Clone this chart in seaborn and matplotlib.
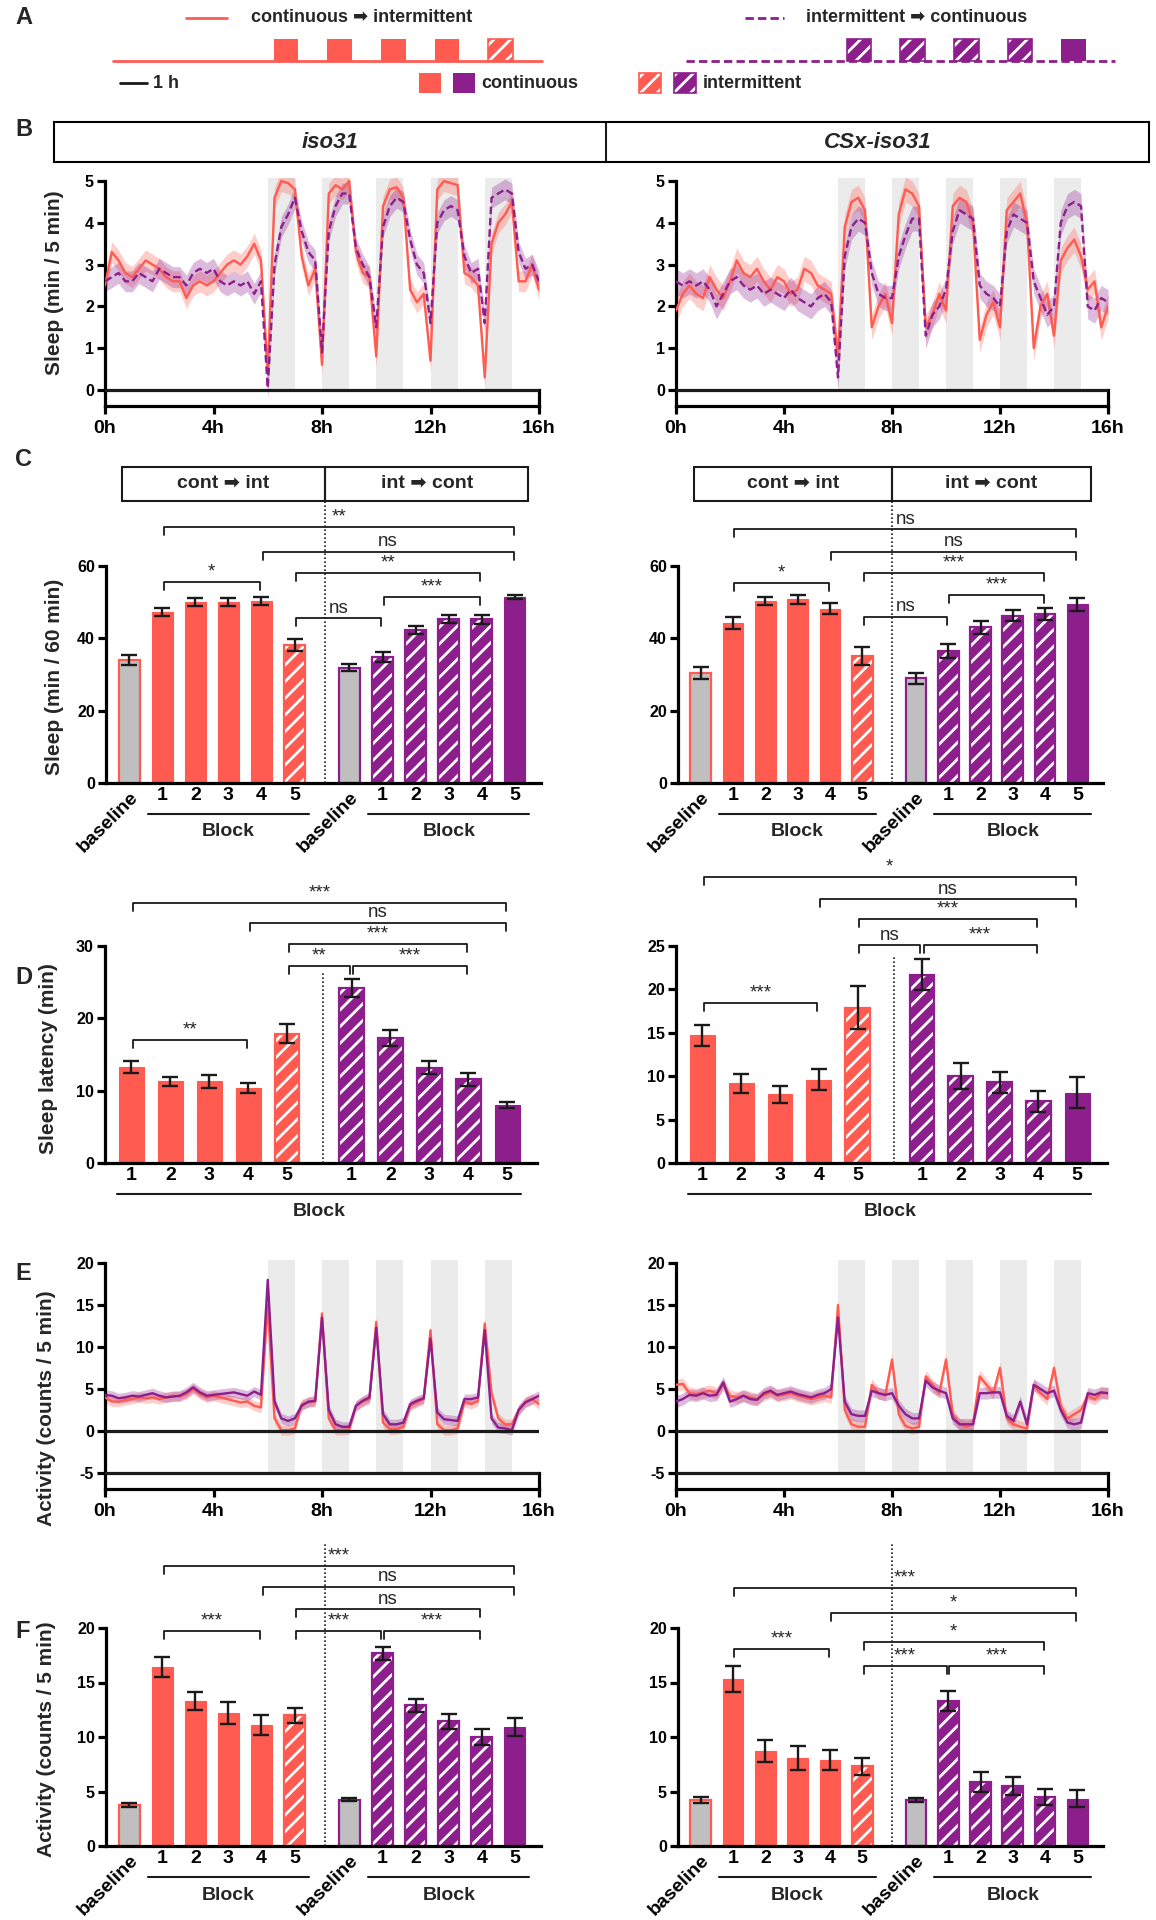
import numpy as np
import matplotlib
matplotlib.use('Agg')
import matplotlib.pyplot as plt
import matplotlib.transforms as mtransforms
from matplotlib.patches import Rectangle
import seaborn as sns

W, H = 1156, 1920
RED = '#FF5B50'
PURPLE = '#8D1F8D'
GRAY = '#BFBFBF'
SHADE = '#EBEBEB'
LW = 2.3      # axis line width (pt)
BW = 0.64     # bar width
GAP = 0.66    # extra space between the two protocol groups

# ---------------- data ----------------
stim_starts = [6, 8, 10, 12, 14]            # 1 h stimulation blocks (h)
proto_cont_int = ['C', 'C', 'C', 'C', 'I']  # continuous -> intermittent
proto_int_cont = ['I', 'I', 'I', 'I', 'C']  # intermittent -> continuous
genotypes = ['iso31', 'CSx-iso31']

hours = np.arange(65) * 0.25   # 15 min bins, 0-16 h

# sleep (min / 5 min), read every 15 min
sleep_iso_cont = [2.5, 3.3, 3.1, 2.8, 2.7, 2.9, 3.1, 3.0,
                  2.9, 2.7, 2.6, 2.6, 2.2, 2.5, 2.6, 2.5,
                  2.6, 2.8, 3.0, 3.1, 3.0, 3.2, 3.5, 3.1,
                  0.4, 4.6, 5.0, 4.95, 4.8, 3.2, 2.5, 2.9,
                  0.6, 4.7, 4.9, 4.8, 5.0, 3.3, 2.8, 2.7,
                  0.8, 4.4, 4.8, 4.85, 4.6, 2.4, 2.1, 2.3,
                  0.7, 4.8, 5.0, 4.95, 4.9, 2.8, 2.7, 2.5,
                  0.3, 3.5, 4.0, 4.2, 4.5, 2.6, 2.6, 3.0,
                  2.4]
sleep_iso_int = [2.6, 2.7, 2.8, 2.6, 2.6, 2.8, 2.7, 2.6,
                 2.9, 2.8, 2.7, 2.7, 2.5, 2.8, 2.9, 2.8,
                 2.9, 2.6, 2.5, 2.6, 2.5, 2.6, 2.3, 2.6,
                 0.05, 3.0, 3.9, 4.2, 4.6, 3.8, 3.3, 3.1,
                 0.9, 3.8, 4.4, 4.7, 4.7, 3.4, 3.0, 2.7,
                 1.5, 3.9, 4.4, 4.6, 4.5, 3.6, 3.0, 2.8,
                 1.6, 4.0, 4.3, 4.4, 4.3, 3.2, 2.8, 2.9,
                 1.6, 4.6, 4.7, 4.8, 4.7, 3.3, 2.9, 3.0,
                 2.6]
sleep_csx_cont = [1.9, 2.3, 2.5, 2.3, 2.2, 2.7, 2.4, 2.2,
                  2.6, 3.1, 2.8, 2.7, 2.9, 2.6, 2.4, 2.7,
                  2.6, 2.3, 2.4, 2.9, 2.8, 2.5, 2.4, 2.3,
                  0.8, 3.9, 4.5, 4.6, 4.3, 1.5, 2.0, 2.3,
                  1.6, 4.2, 4.8, 4.7, 4.4, 1.5, 1.8, 2.3,
                  1.9, 4.4, 4.6, 4.5, 4.0, 1.2, 1.8, 2.1,
                  1.5, 4.3, 4.5, 4.7, 4.0, 1.0, 2.0, 2.3,
                  1.3, 3.1, 3.4, 3.6, 3.2, 2.4, 2.6, 1.5,
                  2.0]
sleep_csx_int = [2.6, 2.5, 2.6, 2.5, 2.6, 2.4, 2.0, 2.3,
                 2.6, 2.7, 2.5, 2.4, 2.5, 2.3, 2.4, 2.3,
                 2.2, 2.4, 2.2, 2.1, 2.0, 2.2, 2.3, 2.1,
                 0.3, 3.2, 3.9, 4.1, 4.0, 2.8, 2.3, 2.2,
                 2.2, 3.2, 3.7, 4.1, 4.1, 1.3, 1.8, 2.0,
                 2.4, 3.8, 4.3, 4.2, 4.1, 2.5, 2.3, 2.2,
                 2.0, 3.8, 4.2, 4.1, 4.0, 2.6, 2.2, 1.8,
                 2.0, 4.0, 4.4, 4.5, 4.4, 2.0, 1.9, 2.2,
                 2.1]
sem_sleep = [0.25, 0.3]

# activity (counts / 5 min), read every 15 min
act_iso_cont = [4.0, 3.5, 3.5, 3.7, 3.8, 4.0, 3.9, 4.0,
                3.8, 4.0, 4.2, 4.1, 4.4, 5.0, 4.4, 4.0,
                4.2, 4.0, 3.8, 3.6, 3.4, 3.5, 3.0, 2.8,
                15.0, 1.5, 0.1, 0.1, 0.3, 3.2, 3.4, 3.5,
                14.0, 1.5, 0.1, 0.1, 0.2, 3.0, 3.5, 3.8,
                13.0, 1.0, 0.2, 0.2, 0.5, 3.0, 3.4, 3.8,
                12.0, 0.8, 0.1, 0.1, 0.3, 3.5, 3.2, 3.6,
                12.8, 4.5, 1.5, 0.8, 0.8, 2.5, 3.5, 3.8,
                3.2]
act_iso_int = [4.3, 4.2, 3.9, 4.0, 4.2, 4.1, 4.3, 4.5,
               4.2, 4.0, 4.1, 4.2, 4.6, 5.2, 4.6, 4.2,
               4.3, 4.4, 4.5, 4.6, 4.4, 4.2, 4.7, 4.3,
               18.0, 3.5, 1.5, 1.2, 1.5, 3.0, 3.5, 3.6,
               13.5, 2.5, 0.8, 0.5, 0.5, 3.0, 3.6, 4.0,
               12.3, 2.0, 0.8, 0.8, 1.0, 3.2, 3.6, 3.9,
               11.0, 2.2, 1.4, 1.3, 1.2, 3.8, 3.8, 4.0,
               12.0, 1.5, 0.4, 0.3, 0.1, 2.5, 3.4, 3.8,
               4.2]
act_csx_cont = [5.5, 5.6, 4.5, 4.4, 4.6, 4.8, 4.5, 5.5,
                4.2, 4.0, 4.2, 4.0, 3.8, 4.3, 4.6, 4.2,
                4.3, 4.5, 4.2, 4.0, 3.8, 4.0, 4.2, 4.0,
                15.0, 2.5, 0.8, 0.5, 0.5, 5.5, 4.5, 4.3,
                8.5, 2.0, 0.6, 0.3, 0.5, 6.5, 5.5, 4.5,
                8.5, 2.0, 0.8, 0.5, 0.8, 6.5, 5.5, 4.5,
                7.5, 1.5, 0.8, 0.5, 0.3, 5.5, 4.5, 3.8,
                7.5, 3.0, 1.5, 2.0, 2.5, 4.2, 3.8, 4.5,
                4.5]
act_csx_int = [3.5, 3.8, 4.3, 4.2, 4.5, 4.2, 4.3, 5.8,
               3.5, 3.8, 4.2, 3.8, 3.7, 4.5, 4.8, 4.3,
               4.5, 4.7, 4.4, 4.2, 4.0, 4.3, 4.5, 5.0,
               13.5, 3.5, 2.0, 1.8, 1.8, 4.8, 4.5, 4.3,
               4.5, 3.0, 2.0, 1.5, 1.5, 6.0, 5.2, 4.8,
               4.5, 1.5, 0.8, 0.8, 0.8, 4.5, 4.5, 4.6,
               4.6, 1.8, 1.2, 3.5, 0.8, 5.5, 5.0, 4.5,
               4.8, 2.5, 1.0, 0.8, 1.0, 4.5, 4.3, 4.6,
               4.5]
sem_act = [0.6, 0.7]

# bar panels: baseline + blocks 1-5
bar_labels = ['baseline', '1', '2', '3', '4', '5']
block_labels = ['1', '2', '3', '4', '5']

sleep60_iso_cont = [34.0, 47.4, 50.0, 50.0, 50.2, 38.2]
sleep60_iso_cont_sem = [1.4, 1.1, 1.1, 1.1, 1.1, 1.65]
sleep60_iso_int = [31.9, 34.8, 42.3, 45.4, 45.3, 51.5]
sleep60_iso_int_sem = [0.9, 1.4, 1.2, 1.1, 1.2, 0.6]
sleep60_csx_cont = [30.4, 44.2, 50.3, 50.8, 48.2, 35.0]
sleep60_csx_cont_sem = [1.75, 1.6, 1.2, 1.2, 1.6, 2.5]
sleep60_csx_int = [29.0, 36.5, 43.0, 46.2, 46.7, 49.4]
sleep60_csx_int_sem = [1.5, 2.0, 1.7, 1.5, 1.6, 1.8]

latency_iso_cont = [13.3, 11.3, 11.3, 10.35, 17.9]
latency_iso_cont_sem = [0.85, 0.6, 0.9, 0.7, 1.3]
latency_iso_int = [24.2, 17.3, 13.2, 11.6, 8.05]
latency_iso_int_sem = [1.2, 1.1, 0.9, 0.9, 0.45]
latency_csx_cont = [14.7, 9.2, 7.9, 9.6, 17.9]
latency_csx_cont_sem = [1.2, 1.1, 1.0, 1.2, 2.5]
latency_csx_int = [21.7, 10.0, 9.3, 7.1, 8.1]
latency_csx_int_sem = [1.8, 1.5, 1.2, 1.2, 1.8]

act60_iso_cont = [3.75, 16.4, 13.3, 12.2, 11.1, 12.0]
act60_iso_cont_sem = [0.15, 0.9, 0.8, 1.0, 0.9, 0.7]
act60_iso_int = [4.25, 17.7, 12.9, 11.45, 10.0, 10.9]
act60_iso_int_sem = [0.12, 0.6, 0.6, 0.7, 0.7, 0.8]
act60_csx_cont = [4.2, 15.3, 8.7, 8.05, 7.9, 7.3]
act60_csx_cont_sem = [0.3, 1.2, 1.0, 1.1, 0.9, 0.8]
act60_csx_int = [4.2, 13.3, 5.9, 5.5, 4.5, 4.35]
act60_csx_int_sem = [0.2, 0.9, 0.9, 0.8, 0.7, 0.75]

# significance brackets: (bar index from, bar index to, height, label)
sig_sleep60 = [
    [(1, 11, 70.7, '**'), (4, 11, 63.9, 'ns'), (5, 10, 58.0, '**'),
     (7, 10, 51.3, '***'), (1, 4, 55.7, '*'), (5, 7, 45.5, 'ns')],
    [(1, 11, 70.1, 'ns'), (4, 11, 63.9, 'ns'), (5, 10, 58.0, '***'),
     (7, 10, 52.0, '***'), (1, 4, 55.2, '*'), (5, 7, 46.0, 'ns')]]
sig_latency = [
    [(0, 9, 36.0, '***'), (3, 9, 33.2, 'ns'), (4, 8, 30.3, '***'),
     (4, 5, 27.2, '**'), (5, 8, 27.2, '***'), (0, 3, 17.0, '**')],
    [(0, 9, 33.0, '*'), (3, 9, 30.4, 'ns'), (4, 8, 28.1, '***'),
     (4, 5, 25.1, 'ns'), (5, 8, 25.1, '***'), (0, 3, 18.4, '***')]]
sig_act60 = [
    [(1, 11, 25.7, '***'), (4, 11, 23.8, 'ns'), (5, 10, 21.7, 'ns'),
     (1, 4, 19.7, '***'), (5, 7, 19.7, '***'), (7, 10, 19.7, '***')],
    [(1, 11, 23.7, '***'), (4, 11, 21.4, '*'), (5, 10, 18.7, '*'),
     (1, 4, 18.1, '***'), (5, 7, 16.5, '***'), (7, 10, 16.5, '***')]]

# ---------------- style ----------------
sns.set_theme(style='ticks')
plt.rcParams['font.family'] = ['Liberation Sans', 'DejaVu Sans']
plt.rcParams.update({
    'font.weight': 'bold', 'axes.linewidth': LW, 'axes.edgecolor': 'black',
    'xtick.color': 'black', 'ytick.color': 'black',
    'xtick.major.width': LW, 'ytick.major.width': LW,
    'xtick.major.size': 6, 'ytick.major.size': 6,
    'hatch.linewidth': 2.0, 'axes.unicode_minus': False,
})

fig = plt.figure(figsize=(W / 100, H / 100), dpi=100)


def px_ax(left, top, right, bottom):
    return fig.add_axes([left / W, 1 - bottom / H, (right - left) / W, (bottom - top) / H])


def scaled_ax(left, right, zero_px, ref_px, ref_val, ylo, yhi):
    ppu = (zero_px - ref_px) / ref_val
    ax = px_ax(left, zero_px - yhi * ppu, right, zero_px - ylo * ppu)
    ax.set_ylim(ylo, yhi)
    return ax, ppu


def ftext(x, y, s, **kw):
    fig.text(x / W, 1 - y / H, s, **kw)


def stim_patch(ax, x, y, w, h, col, kind, **kw):
    if kind == 'C':
        ax.add_patch(Rectangle((x, y), w, h, facecolor=col, edgecolor='none', **kw))
    else:
        ax.add_patch(Rectangle((x, y), w, h, facecolor=col, edgecolor='white', hatch='//', lw=0, **kw))
        ax.add_patch(Rectangle((x, y), w, h, fill=False, edgecolor=col, lw=1.2, **kw))


def draw_trace(ax, red, purple, sem, strip_top, yticks, dashed):
    ylo, yhi = ax.get_ylim()
    ax.set_xlim(0, 16)
    for s in stim_starts:
        ax.fill_between([s, s + 1], strip_top, yhi, color=SHADE, lw=0, zorder=0)
    purple_ls = (0, (3.2, 1.6)) if dashed else '-'
    for vals, col, ls in ((red, RED, '-'), (purple, PURPLE, purple_ls)):
        v = np.asarray(vals)
        ax.fill_between(hours, v - sem, v + sem, color=col, alpha=0.3, lw=0, zorder=2)
        sns.lineplot(x=hours, y=v, ax=ax, color=col, lw=1.7, linestyle=ls, zorder=3)
    for yy in sorted({0, strip_top}):
        ax.axhline(yy, color='k', lw=LW, zorder=5)
    ax.spines['top'].set_visible(False)
    ax.spines['left'].set_bounds(ylo, yticks[-1])
    ax.spines['right'].set_bounds(ylo, strip_top)
    ax.set_yticks(yticks)
    ax.set_xticks([0, 4, 8, 12, 16], ['0h', '4h', '8h', '12h', '16h'])
    ax.tick_params(axis='x', labelsize=14, pad=4)
    ax.tick_params(axis='y', labelsize=11.5, pad=2)
    ax.set_xlabel('')
    ax.set_ylabel('')


def draw_bars(ax, ppu, groups, labels, xlim, yticks, sig, dotted_top, spans):
    n = len(labels)
    pos = np.concatenate([np.arange(n), np.arange(n) + n + GAP])
    ax.set_xlim(*xlim)
    k = 0
    for vals, sems, col, kinds in groups:
        for h, e, kind in zip(vals, sems, kinds):
            x = pos[k]
            if kind == 'B':
                ax.bar(x, h, BW, color=GRAY, edgecolor=col, lw=1.6, zorder=2)
            elif kind == 'C':
                ax.bar(x, h, BW, color=col, edgecolor=col, lw=0.8, zorder=2)
            else:
                ax.bar(x, h, BW, color=col, edgecolor='white', hatch='//', lw=0, zorder=2)
                ax.bar(x, h, BW, fill=False, edgecolor=col, lw=1.6, zorder=2.1)
            ax.errorbar(x, h, yerr=e, fmt='none', ecolor='k', elinewidth=1.7,
                        capsize=5.5, capthick=1.7, zorder=3)
            k += 1
    # brackets
    t = 8.0 / ppu
    for i, j, y, lab in sig:
        x1, x2 = pos[i] + 0.04, pos[j] - 0.04
        ax.plot([x1, x1, x2, x2], [y - t, y, y, y - t], color='k', lw=1.3,
                clip_on=False, zorder=4)
        ax.text((x1 + x2) / 2, y + 1.5 / ppu, lab, ha='center', va='bottom',
                fontsize=13.5, fontweight='normal', zorder=4)
    xd = pos[n - 1] + 0.56 * (1 + GAP)
    ax.plot([xd, xd], [0, dotted_top], color='k', lw=1.2, ls=(0, (1, 1.4)),
            clip_on=False, zorder=4)
    # axes
    ax.spines['top'].set_visible(False)
    ax.spines['right'].set_visible(False)
    ax.spines['left'].set_bounds(0, yticks[-1])
    ax.set_yticks(yticks)
    ax.set_xticks(pos, labels * 2)
    ax.tick_params(axis='x', length=0, pad=3, labelsize=14)
    ax.tick_params(axis='y', labelsize=11.5, pad=2)
    shift = mtransforms.ScaledTranslation(0.0, -0.02, fig.dpi_scale_trans)
    for lbl in ax.get_xticklabels():
        if lbl.get_text() == 'baseline':
            lbl.set_rotation(45)
            lbl.set_ha('right')
            lbl.set_va('top')
            lbl.set_rotation_mode('anchor')
            lbl.set_transform(lbl.get_transform() + shift)
    line_tr = mtransforms.offset_copy(ax.get_xaxis_transform(), fig=fig, y=-31, units='dots')
    text_tr = mtransforms.offset_copy(ax.get_xaxis_transform(), fig=fig, y=-49, units='dots')
    for i0, i1, ext in spans:
        ax.plot([pos[i0] - ext, pos[i1] + ext], [0, 0], color='k', lw=1.5,
                transform=line_tr, clip_on=False)
        ax.text((pos[i0] + pos[i1]) / 2, 0, 'Block', transform=text_tr, ha='center',
                va='center', fontsize=14)
    return pos


# ---------------- panel A: protocol ----------------
axA = px_ax(0, 0, W, 105)
axA.set_xlim(0, W)
axA.set_ylim(105, 0)
axA.axis('off')
PPH = 26.8   # px per hour on the schematic
for x0, col, ls, proto in ((113, RED, '-', proto_cont_int),
                           (686, PURPLE, (0, (3, 1.5)), proto_int_cont)):
    axA.plot([x0, x0 + 16 * PPH], [61, 61], color=col, lw=2, ls=ls)
    for s, kind in zip(stim_starts, proto):
        stim_patch(axA, x0 + s * PPH, 39, 0.92 * PPH, 22, col, kind)
axA.plot([186, 227], [18, 18], color=RED, lw=2)
axA.text(251, 18, 'continuous ➡ intermittent', va='center', fontsize=13)
axA.plot([745, 784], [18, 18], color=PURPLE, lw=2, ls=(0, (3, 1.5)))
axA.text(806, 18, 'intermittent ➡ continuous', va='center', fontsize=13)
axA.plot([120, 120 + PPH], [83, 83], color='k', lw=2)
axA.text(153, 83, '1 h', va='center', fontsize=13)
stim_patch(axA, 419, 73, 22, 20, RED, 'C')
stim_patch(axA, 453, 73, 22, 20, PURPLE, 'C')
axA.text(481, 83, 'continuous', va='center', fontsize=13)
stim_patch(axA, 639, 73, 22, 20, RED, 'I')
stim_patch(axA, 674, 73, 22, 20, PURPLE, 'I')
axA.text(703, 83, 'intermittent', va='center', fontsize=13)

# ---------------- panel B header ----------------
axh = px_ax(54, 122, 1149, 162)
axh.set_xlim(0, 1)
axh.set_ylim(0, 1)
axh.set_xticks([])
axh.set_yticks([])
for sp in axh.spines.values():
    sp.set_linewidth(1.5)
axh.axvline((606 - 54) / (1149 - 54), color='k', lw=1.5)
axh.text(0.252, 0.5, genotypes[0], ha='center', va='center', fontsize=16, style='italic')
axh.text(0.752, 0.5, genotypes[1], ha='center', va='center', fontsize=16, style='italic')

# ---------------- traces B and E ----------------
trace_x = [(105, 539), (676, 1108)]
sleep_traces = [(sleep_iso_cont, sleep_iso_int), (sleep_csx_cont, sleep_csx_int)]
act_traces = [(act_iso_cont, act_iso_int), (act_csx_cont, act_csx_int)]
for g, (l, r) in enumerate(trace_x):
    axB, _ = scaled_ax(l, r, 390, 181, 5, -0.383, 5.06)
    draw_trace(axB, *sleep_traces[g], sem_sleep[g], 0, [0, 1, 2, 3, 4, 5], True)
    axE, _ = scaled_ax(l, r, 1431, 1263, 20, -6.9, 20.35)
    draw_trace(axE, *act_traces[g], sem_act[g], -5, [-5, 0, 5, 10, 15, 20], False)

# ---------------- bar panels C, D, F ----------------
bar_x = [(106, 541), (678, 1103)]
lat_x = [(105, 537), (676, 1107)]
kinds_c = ['B'] + proto_cont_int
kinds_i = ['B'] + proto_int_cont
sleep60 = [(sleep60_iso_cont, sleep60_iso_cont_sem, sleep60_iso_int, sleep60_iso_int_sem),
           (sleep60_csx_cont, sleep60_csx_cont_sem, sleep60_csx_int, sleep60_csx_int_sem)]
latency = [(latency_iso_cont, latency_iso_cont_sem, latency_iso_int, latency_iso_int_sem),
           (latency_csx_cont, latency_csx_cont_sem, latency_csx_int, latency_csx_int_sem)]
act60 = [(act60_iso_cont, act60_iso_cont_sem, act60_iso_int, act60_iso_int_sem),
         (act60_csx_cont, act60_csx_cont_sem, act60_csx_int, act60_csx_int_sem)]
lat_ref = [30, 25]
lat_top = [37, 34]
lat_ticks = [[0, 10, 20, 30], [0, 5, 10, 15, 20, 25]]
lat_dotted = [26.2, 23.8]
spans6 = [(1, 5, 0.43), (7, 11, 0.43)]
spans5 = [(0, 9, 0.37)]

for g in range(2):
    l, r = bar_x[g]
    # C: sleep per 60 min
    axC, ppu = scaled_ax(l, r, 783, 566, 60, 0, 88.5)
    a, ae, b, be = sleep60[g]
    draw_bars(axC, ppu, [(a, ae, RED, kinds_c), (b, be, PURPLE, kinds_i)], bar_labels,
              (-0.7, 12.45), [0, 20, 40, 60], sig_sleep60[g], 78.0, spans6)
    xd = 5 + 0.56 * (1 + GAP)
    for x0, x1, lab in ((-0.22, xd, 'cont ➡ int'), (xd, 12.07, 'int ➡ cont')):
        axC.add_patch(Rectangle((x0, 78.0), x1 - x0, 9.4, fill=False, edgecolor='k',
                                lw=1.5, clip_on=False))
        axC.text((x0 + x1) / 2, 82.7, lab, ha='center', va='center', fontsize=14)

    # D: sleep latency
    l, r = lat_x[g]
    axD, ppu = scaled_ax(l, r, 1163, 946, lat_ref[g], 0, lat_top[g])
    a, ae, b, be = latency[g]
    draw_bars(axD, ppu, [(a, ae, RED, proto_cont_int), (b, be, PURPLE, proto_int_cont)],
              block_labels, (-0.68, 10.43), lat_ticks[g], sig_latency[g], lat_dotted[g], spans5)

    # F: activity per 60 min
    l, r = bar_x[g]
    axF, ppu = scaled_ax(l, r, 1846, 1628, 20, 0, 28.3)
    a, ae, b, be = act60[g]
    draw_bars(axF, ppu, [(a, ae, RED, kinds_c), (b, be, PURPLE, kinds_i)], bar_labels,
              (-0.7, 12.45), [0, 5, 10, 15, 20], sig_act60[g], 27.8, spans6)

# ---------------- labels ----------------
ylab = dict(rotation=90, ha='center', va='center', fontsize=15)
ftext(55, 283, 'Sleep (min / 5 min)', **ylab)
ftext(55, 677, 'Sleep (min / 60 min)', **ylab)
ftext(49, 1059, 'Sleep latency (min)', **ylab)
ftext(47, 1408, 'Activity (counts / 5 min)', **ylab)
ftext(47, 1739, 'Activity (counts / 5 min)', **ylab)
for letter, y in zip('ABCDEF', [18, 129, 459, 977, 1274, 1632]):
    ftext(15, y, letter, ha='left', va='center', fontsize=17)

fig.savefig('out.png', dpi=100)
